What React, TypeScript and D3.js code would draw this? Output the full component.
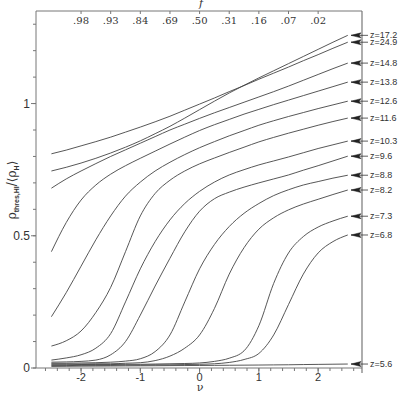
import React from "react";
import * as d3 from "d3";

const nuGrid = [-2.5, -2.25, -2, -1.75, -1.5, -1.25, -1, -0.75, -0.5, -0.25, 0, 0.25, 0.5, 0.75, 1, 1.25, 1.5, 1.75, 2, 2.25, 2.5];

const zLabels = ["z=24.9", "z=17.2", "z=14.8", "z=13.8", "z=12.6", "z=11.6", "z=10.3", "z=9.6", "z=8.8", "z=8.2", "z=7.3", "z=6.8", "z=5.6"];

const z249 = [0.81, 0.824, 0.84, 0.856, 0.873, 0.892, 0.911, 0.931, 0.952, 0.975, 0.998, 1.021, 1.045, 1.068, 1.092, 1.115, 1.138, 1.162, 1.185, 1.209, 1.232];
const z172 = [0.745, 0.759, 0.775, 0.793, 0.813, 0.835, 0.859, 0.886, 0.914, 0.945, 0.977, 1.009, 1.04, 1.069, 1.097, 1.124, 1.151, 1.178, 1.205, 1.232, 1.258];
const z148 = [0.68, 0.715, 0.745, 0.773, 0.8, 0.825, 0.85, 0.875, 0.9, 0.922, 0.944, 0.965, 0.985, 1.005, 1.025, 1.045, 1.066, 1.088, 1.11, 1.132, 1.153];
const z138 = [0.44, 0.55, 0.635, 0.692, 0.733, 0.765, 0.793, 0.82, 0.847, 0.873, 0.898, 0.92, 0.94, 0.96, 0.978, 0.996, 1.013, 1.03, 1.047, 1.064, 1.081];
const z126 = [0.194, 0.285, 0.385, 0.485, 0.575, 0.65, 0.703, 0.745, 0.778, 0.807, 0.833, 0.856, 0.878, 0.898, 0.918, 0.935, 0.951, 0.966, 0.981, 0.995, 1.009];
const z116 = [0.083, 0.103, 0.14, 0.21, 0.305, 0.44, 0.575, 0.66, 0.71, 0.745, 0.772, 0.794, 0.815, 0.835, 0.855, 0.872, 0.888, 0.903, 0.918, 0.932, 0.945];
const z103 = [0.03, 0.038, 0.05, 0.075, 0.13, 0.25, 0.375, 0.478, 0.56, 0.622, 0.668, 0.703, 0.73, 0.75, 0.768, 0.783, 0.798, 0.814, 0.83, 0.844, 0.858];
const z96 = [0.022, 0.023, 0.025, 0.03, 0.05, 0.1, 0.2, 0.31, 0.415, 0.515, 0.593, 0.64, 0.665, 0.684, 0.7, 0.715, 0.73, 0.748, 0.765, 0.783, 0.801];
const z88 = [0.018, 0.018, 0.019, 0.02, 0.022, 0.026, 0.035, 0.062, 0.125, 0.25, 0.375, 0.467, 0.535, 0.585, 0.622, 0.652, 0.674, 0.692, 0.705, 0.718, 0.729];
const z82 = [0.015, 0.015, 0.015, 0.016, 0.016, 0.018, 0.02, 0.028, 0.045, 0.075, 0.125, 0.225, 0.355, 0.455, 0.525, 0.568, 0.598, 0.62, 0.638, 0.656, 0.673];
const z73 = [0.012, 0.012, 0.013, 0.013, 0.013, 0.014, 0.014, 0.015, 0.016, 0.017, 0.019, 0.025, 0.037, 0.065, 0.16, 0.32, 0.435, 0.497, 0.533, 0.556, 0.574];
const z68 = [0.009, 0.009, 0.01, 0.01, 0.01, 0.011, 0.011, 0.012, 0.012, 0.013, 0.014, 0.016, 0.021, 0.032, 0.055, 0.125, 0.24, 0.355, 0.435, 0.478, 0.503];
const z56 = [0.006, 0.0065, 0.007, 0.0073, 0.0076, 0.008, 0.0083, 0.0086, 0.009, 0.0093, 0.0096, 0.01, 0.0104, 0.0108, 0.0112, 0.0117, 0.0122, 0.013, 0.0137, 0.0143, 0.015];

const seriesList = [z249, z172, z148, z138, z126, z116, z103, z96, z88, z82, z73, z68, z56];

const fTickNu = [-2, -1.5, -1, -0.5, 0, 0.5, 1, 1.5, 2];
const fTickLabels = [".98", ".93", ".84", ".69", ".50", ".31", ".16", ".07", ".02"];
const xMajorTicks = [-2, -1, 0, 1, 2];
const yMajorTicks = [0, 0.5, 1];
const yTickLabels = ["0", "0.5", "1"];

export default function App() {
  const W = 400, H = 393;
  const L = 36, R = 362, T = 11, B = 368;
  const x = d3.scaleLinear().domain([-2.76, 2.74]).range([L, R]);
  const y = d3.scaleLinear().domain([0, 1.35]).range([B, T]);
  const line = d3
    .line<number>()
    .x((_, i) => x(nuGrid[i]))
    .y((d) => y(d))
    .curve(d3.curveMonotoneX);

  const xMinor = d3.range(-2.6, 2.7, 0.2).map((v) => Math.round(v * 10) / 10);
  const yMinor = d3.range(0, 1.35, 0.1).map((v) => Math.round(v * 10) / 10);
  const axisColor = "#777";
  const curveColor = "#444";
  const sans = "'Liberation Sans', Arial, sans-serif";
  const serif = "'DejaVu Serif', serif";

  return (
    <svg width={W} height={H} style={{ position: "absolute", left: 0, top: 0, background: "#fff" }}>
      {/* frame */}
      <line x1={L} x2={R} y1={T} y2={T} stroke={axisColor} strokeWidth={1} />
      <line x1={L} x2={L} y1={T} y2={B} stroke={axisColor} strokeWidth={1} />
      <line x1={R} x2={R} y1={T} y2={B + 5} stroke={axisColor} strokeWidth={1.2} />
      <line x1={L} x2={R} y1={B} y2={B} stroke={axisColor} strokeWidth={1} />

      {/* y ticks */}
      {yMinor.map((v) => (
        <line key={"ym" + v} x1={L - 3} x2={L} y1={y(v)} y2={y(v)} stroke={axisColor} />
      ))}
      {yMajorTicks.map((v, i) => (
        <g key={"yM" + v}>
          <line x1={L - 5} x2={L} y1={y(v)} y2={y(v)} stroke={axisColor} />
          <text x={L - 6} y={y(v)} dy="0.35em" textAnchor="end" fontSize={12} fontFamily={sans} fill="#333">
            {yTickLabels[i]}
          </text>
        </g>
      ))}

      {/* x ticks */}
      {xMinor.map((v) => (
        <line key={"xm" + v} x1={x(v)} x2={x(v)} y1={B} y2={B + 3} stroke={axisColor} />
      ))}
      {xMajorTicks.map((v) => (
        <g key={"xM" + v}>
          <line x1={x(v)} x2={x(v)} y1={B} y2={B + 5} stroke={axisColor} />
          <text x={x(v)} y={B + 13} textAnchor="middle" fontSize={11} fontFamily={sans} fill="#333">
            {v < 0 ? "-" + Math.abs(v) : String(v)}
          </text>
        </g>
      ))}

      {/* top f axis */}
      {fTickNu.map((v, i) => (
        <g key={"f" + v}>
          <line x1={x(v)} x2={x(v)} y1={T} y2={T + 3} stroke={axisColor} />
          <text x={x(v)} y={T + 13} textAnchor="middle" fontSize={10} fontFamily={serif} fill="#333">
            {fTickLabels[i]}
          </text>
        </g>
      ))}
      <text x={201} y={7} textAnchor="middle" fontSize={11} fontStyle="italic" fontFamily={serif} fill="#333">
        f
      </text>

      {/* axis titles */}
      <text x={200} y={390.5} textAnchor="middle" fontSize={11} fontFamily={serif} fill="#333">
        ν
      </text>
      <text
        transform={`translate(16, ${190}) rotate(-90)`}
        textAnchor="middle"
        fontSize={12}
        fontFamily={serif}
        fill="#333"
      >
        <tspan>ρ</tspan>
        <tspan fontSize={7} dy={3} fontFamily={sans} fontWeight="bold">thres,HI</tspan>
        <tspan dy={-3}>/⟨ρ</tspan>
        <tspan fontSize={7} dy={3} fontFamily={sans} fontWeight="bold">H</tspan>
        <tspan dy={-3}>⟩</tspan>
      </text>

      {/* curves */}
      <g fill="none" stroke={curveColor} strokeWidth={0.9}>
        {seriesList.map((s, i) => (
          <path key={"c" + i} d={line(s) || ""} />
        ))}
      </g>

      {/* end labels with arrows */}
      {seriesList.map((s, i) => {
        const yy = y(s[s.length - 1]);
        return (
          <g key={"lab" + i}>
            <line x1={351} x2={368} y1={yy} y2={yy} stroke="#333" strokeWidth={0.8} />
            <path d={`M351,${yy} L361,${yy - 2.5} L359,${yy} L361,${yy + 2.5} Z`} fill="#222" stroke="#222" strokeWidth={0.5} />
            <text x={370} y={yy} dy="0.33em" fontSize={9} fontFamily={sans} fill="#333">
              {zLabels[i]}
            </text>
          </g>
        );
      })}
    </svg>
  );
}
